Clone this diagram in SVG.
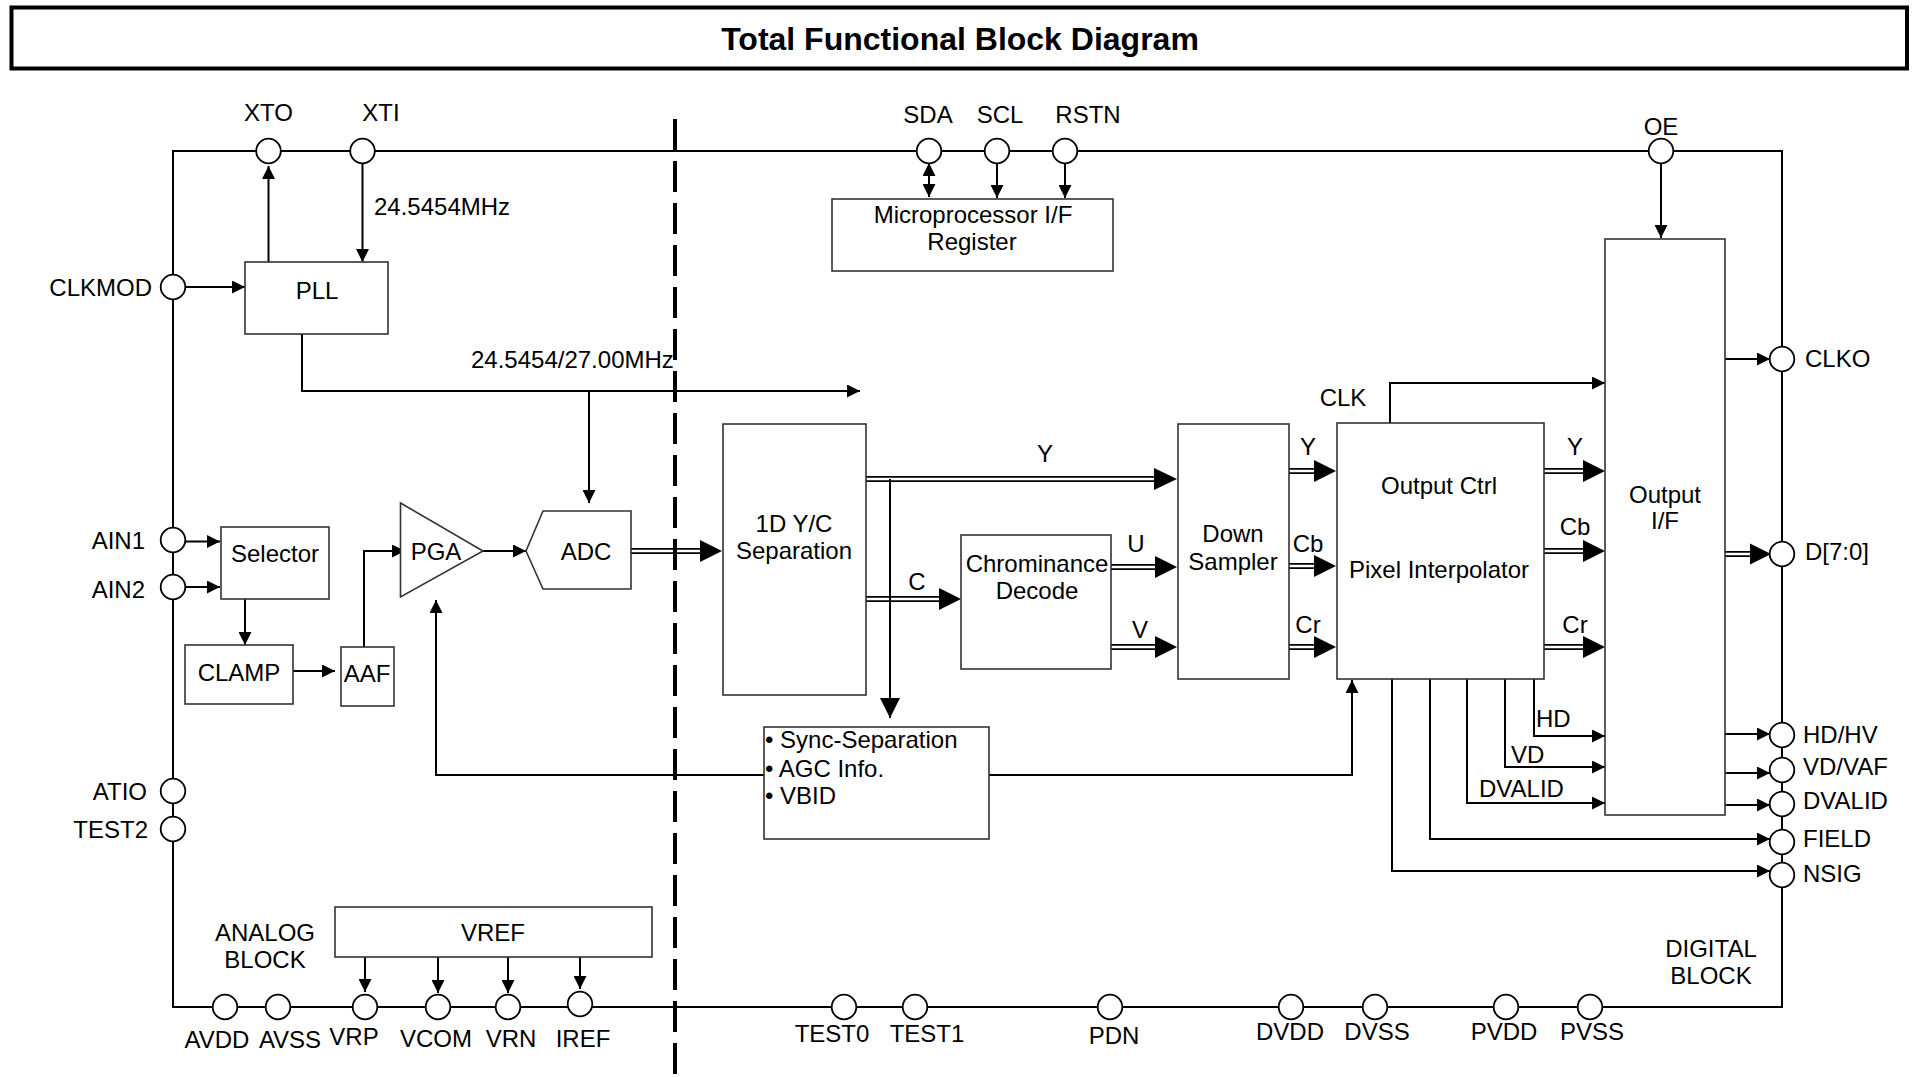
<svg xmlns="http://www.w3.org/2000/svg" width="1914" height="1077" viewBox="0 0 1914 1077">
<style>
text{font-family:"Liberation Sans",Arial,sans-serif;font-size:24px;fill:#000}
.title{font-weight:bold;font-size:32px}
.box{fill:#fff;stroke:#333;stroke-width:1.6}
.frame{fill:none;stroke:#000;stroke-width:2}
.conn{fill:none;stroke:#000;stroke-width:2}
.dbl{fill:none;stroke:#000;stroke-width:1.8}
.head{fill:#000;stroke:none}
.pin{fill:#fff;stroke:#000;stroke-width:1.8}
.dash{fill:none;stroke:#000;stroke-width:4;stroke-dasharray:31 11}
.m{text-anchor:middle}
.e{text-anchor:end}
</style>
<defs>
<marker id="arr" markerUnits="userSpaceOnUse" markerWidth="14" markerHeight="13" refX="13" refY="6.5" orient="auto-start-reverse" viewBox="0 0 14 13">
<path d="M0,0 L13,6.5 L0,13 Z" fill="#000"/>
</marker>
<marker id="bigarr" markerUnits="userSpaceOnUse" markerWidth="21" markerHeight="20" refX="20" refY="10" orient="auto" viewBox="0 0 21 20">
<path d="M0,0 L20,10 L0,20 Z" fill="#000"/>
</marker>
</defs>
<rect width="1914" height="1077" fill="#fff"/>

<g id="title">
<rect x="11.5" y="7.5" width="1895.5" height="61" fill="none" stroke="#000" stroke-width="4"/>
<text class="title m" x="960" y="50">Total Functional Block Diagram</text>
</g>

<g id="frame">
<rect class="frame" x="173" y="151" width="1609" height="856"/>
<path class="dash" d="M675 119 V1077"/>
</g>

<g id="connectors">
<path class="conn" d="M268.5 262 V166" marker-end="url(#arr)"/>
<path class="conn" d="M362.5 164 V262" marker-end="url(#arr)"/>
<path class="conn" d="M185.5 287 H245" marker-end="url(#arr)"/>
<path class="conn" d="M302 334 V391 H860" marker-end="url(#arr)"/>
<path class="conn" d="M589 391 V503" marker-end="url(#arr)"/>
<path class="conn" d="M186 541.5 H220" marker-end="url(#arr)"/>
<path class="conn" d="M186 587 H220" marker-end="url(#arr)"/>
<path class="conn" d="M245 599 V645" marker-end="url(#arr)"/>
<path class="conn" d="M293 671 H335" marker-end="url(#arr)"/>
<path class="conn" d="M364 647 V551 H405" marker-end="url(#arr)"/>
<path class="conn" d="M483 551 H526" marker-end="url(#arr)"/>
<path class="conn" d="M764 775 H436 V600" marker-end="url(#arr)"/>
<path class="conn" d="M989 775 H1352 V680" marker-end="url(#arr)"/>
<path class="conn" d="M890 479 V718" marker-end="url(#bigarr)"/>
<path class="conn" d="M929 163 V197" marker-start="url(#arr)" marker-end="url(#arr)"/>
<path class="conn" d="M997 164 V198" marker-end="url(#arr)"/>
<path class="conn" d="M1065 164 V198" marker-end="url(#arr)"/>
<path class="conn" d="M1661 164 V238" marker-end="url(#arr)"/>
<path class="conn" d="M1390 423 V383 H1605" marker-end="url(#arr)"/>
<path class="conn" d="M1725 359 H1770" marker-end="url(#arr)"/>
<path class="conn" d="M1534 677 V736 H1605" marker-end="url(#arr)"/>
<path class="conn" d="M1505 679 V767 H1605" marker-end="url(#arr)"/>
<path class="conn" d="M1467 677 V803 H1605" marker-end="url(#arr)"/>
<path class="conn" d="M1430 679 V839 H1770" marker-end="url(#arr)"/>
<path class="conn" d="M1392 679 V871 H1770" marker-end="url(#arr)"/>
<path class="conn" d="M1725 734 H1770" marker-end="url(#arr)"/>
<path class="conn" d="M1725 773 H1770" marker-end="url(#arr)"/>
<path class="conn" d="M1725 805 H1770" marker-end="url(#arr)"/>
<path class="conn" d="M365 957 V992" marker-end="url(#arr)"/>
<path class="conn" d="M438 957 V993" marker-end="url(#arr)"/>
<path class="conn" d="M508 957 V993" marker-end="url(#arr)"/>
<path class="conn" d="M580 957 V989" marker-end="url(#arr)"/>
<!-- double (bus) arrows -->
<path class="dbl" d="M625 548.8 H701 M625 553.2 H701"/><path class="head" d="M700 540 L722 551 L700 562 Z"/>
<path class="dbl" d="M866 476.8 H1156 M866 481.2 H1156"/><path class="head" d="M1154 468 L1177 479 L1154 490 Z"/>
<path class="dbl" d="M866 596.8 H940 M866 601.2 H940"/><path class="head" d="M939 588 L961 599 L939 610 Z"/>
<path class="dbl" d="M1111 564.8 H1156 M1111 569.2 H1156"/><path class="head" d="M1155 556 L1177 567 L1155 578 Z"/>
<path class="dbl" d="M1111 644.8 H1156 M1111 649.2 H1156"/><path class="head" d="M1155 636 L1177 647 L1155 658 Z"/>
<path class="dbl" d="M1289 468.8 H1315 M1289 473.2 H1315"/><path class="head" d="M1314 460 L1336 471 L1314 482 Z"/>
<path class="dbl" d="M1289 563.8 H1315 M1289 568.2 H1315"/><path class="head" d="M1314 555 L1336 566 L1314 577 Z"/>
<path class="dbl" d="M1289 644.8 H1315 M1289 649.2 H1315"/><path class="head" d="M1314 636 L1336 647 L1314 658 Z"/>
<path class="dbl" d="M1544 468.8 H1584 M1544 473.2 H1584"/><path class="head" d="M1583 460 L1605 471 L1583 482 Z"/>
<path class="dbl" d="M1544 548.8 H1584 M1544 553.2 H1584"/><path class="head" d="M1583 540 L1605 551 L1583 562 Z"/>
<path class="dbl" d="M1544 644.8 H1584 M1544 649.2 H1584"/><path class="head" d="M1583 636 L1605 647 L1583 658 Z"/>
<path class="dbl" d="M1725 551.8 H1752 M1725 556.2 H1752"/><path class="head" d="M1750 543.5 L1771 554 L1750 564.5 Z"/>
</g>

<g id="connector-labels">
<text x="374" y="215">24.5454MHz</text>
<text x="471" y="368">24.5454/27.00MHz</text>
<text class="m" x="1045" y="462">Y</text>
<text class="m" x="917" y="590">C</text>
<text class="m" x="1136" y="552">U</text>
<text class="m" x="1140" y="638">V</text>
<text class="m" x="1308" y="455">Y</text>
<text class="m" x="1308" y="552">Cb</text>
<text class="m" x="1308" y="633">Cr</text>
<text class="m" x="1575" y="455">Y</text>
<text class="m" x="1575" y="535">Cb</text>
<text class="m" x="1575" y="633">Cr</text>
<text class="m" x="1343" y="406">CLK</text>
<text x="1536" y="727">HD</text>
<text x="1511" y="763">VD</text>
<text x="1479" y="797">DVALID</text>
</g>

<g id="pll"><rect class="box" x="245" y="262" width="143" height="72"/><text class="m" x="317" y="299">PLL</text></g>
<g id="mpu"><rect class="box" x="832" y="199" width="281" height="72"/><text class="m" x="973" y="223">Microprocessor I/F</text><text class="m" x="972" y="250">Register</text></g>
<g id="selector"><rect class="box" x="221" y="527" width="108" height="72"/><text class="m" x="275" y="562">Selector</text></g>
<g id="clamp"><rect class="box" x="185" y="645" width="108" height="59"/><text class="m" x="239" y="681">CLAMP</text></g>
<g id="aaf"><rect class="box" x="341" y="647" width="53" height="59"/><text class="m" x="367" y="682">AAF</text></g>
<g id="pga"><path class="box" d="M400.5 503 L483 551 L400.5 597 Z"/><text class="m" x="436" y="560">PGA</text></g>
<g id="adc"><path class="box" d="M526 551 L543 511 H631 V589 H543 Z"/><text class="m" x="586" y="560">ADC</text></g>
<g id="yc-sep"><rect class="box" x="723" y="424" width="143" height="271"/><text class="m" x="794" y="532">1D Y/C</text><text class="m" x="794" y="559">Separation</text></g>
<g id="chroma"><rect class="box" x="961" y="535" width="150" height="134"/><text class="m" x="1037" y="572">Chrominance</text><text class="m" x="1037" y="599">Decode</text></g>
<g id="down-sampler"><rect class="box" x="1178" y="424" width="111" height="255"/><text class="m" x="1233" y="542">Down</text><text class="m" x="1233" y="570">Sampler</text></g>
<g id="output-ctrl"><rect class="box" x="1337" y="423" width="207" height="256"/><text class="m" x="1439" y="494">Output Ctrl</text><text class="m" x="1439" y="578">Pixel Interpolator</text></g>
<g id="output-if"><rect class="box" x="1605" y="239" width="120" height="576"/><text class="m" x="1665" y="503">Output</text><text class="m" x="1665" y="529">I/F</text></g>
<g id="sync"><rect class="box" x="764" y="727" width="225" height="112"/><text x="765" y="748">• Sync-Separation</text><text x="765" y="777">• AGC Info.</text><text x="765" y="804">• VBID</text></g>
<g id="vref"><rect class="box" x="335" y="907" width="317" height="50"/><text class="m" x="493" y="941">VREF</text></g>

<g id="block-labels">
<text class="m" x="265" y="941">ANALOG</text><text class="m" x="265" y="968">BLOCK</text>
<text class="m" x="1711" y="957">DIGITAL</text><text class="m" x="1711" y="984">BLOCK</text>
</g>

<g id="pins">
<circle class="pin" cx="268.5" cy="151" r="12.3"/>
<circle class="pin" cx="362.5" cy="151" r="12.3"/>
<circle class="pin" cx="929" cy="151" r="12.3"/>
<circle class="pin" cx="997" cy="151" r="12.3"/>
<circle class="pin" cx="1065" cy="151" r="12.3"/>
<circle class="pin" cx="1661" cy="151" r="12.3"/>
<circle class="pin" cx="173" cy="287" r="12.3"/>
<circle class="pin" cx="173" cy="540" r="12.3"/>
<circle class="pin" cx="173" cy="587" r="12.3"/>
<circle class="pin" cx="173" cy="791" r="12.3"/>
<circle class="pin" cx="173" cy="829" r="12.3"/>
<circle class="pin" cx="1782" cy="359" r="12.3"/>
<circle class="pin" cx="1782" cy="554" r="12.3"/>
<circle class="pin" cx="1782" cy="735" r="12.3"/>
<circle class="pin" cx="1782" cy="770" r="12.3"/>
<circle class="pin" cx="1782" cy="804" r="12.3"/>
<circle class="pin" cx="1782" cy="842" r="12.3"/>
<circle class="pin" cx="1782" cy="875" r="12.3"/>
<circle class="pin" cx="225" cy="1007" r="12.3"/>
<circle class="pin" cx="278" cy="1007" r="12.3"/>
<circle class="pin" cx="365" cy="1007" r="12.3"/>
<circle class="pin" cx="438" cy="1007" r="12.3"/>
<circle class="pin" cx="508" cy="1007" r="12.3"/>
<circle class="pin" cx="580" cy="1004" r="12.3"/>
<circle class="pin" cx="844" cy="1007" r="12.3"/>
<circle class="pin" cx="915" cy="1007" r="12.3"/>
<circle class="pin" cx="1110" cy="1007" r="12.3"/>
<circle class="pin" cx="1291" cy="1007" r="12.3"/>
<circle class="pin" cx="1375" cy="1007" r="12.3"/>
<circle class="pin" cx="1506" cy="1007" r="12.3"/>
<circle class="pin" cx="1590" cy="1007" r="12.3"/>
</g>

<g id="pin-labels">
<text class="m" x="268.5" y="121">XTO</text>
<text class="m" x="381" y="121">XTI</text>
<text class="m" x="928" y="123">SDA</text>
<text class="m" x="1000" y="123">SCL</text>
<text class="m" x="1088" y="123">RSTN</text>
<text class="m" x="1661" y="135">OE</text>
<text class="e" x="152" y="296">CLKMOD</text>
<text class="e" x="145" y="549">AIN1</text>
<text class="e" x="145" y="598">AIN2</text>
<text class="e" x="147" y="800">ATIO</text>
<text class="e" x="148" y="838">TEST2</text>
<text x="1805" y="367">CLKO</text>
<text x="1805" y="560">D[7:0]</text>
<text x="1803" y="743">HD/HV</text>
<text x="1803" y="775">VD/VAF</text>
<text x="1803" y="809">DVALID</text>
<text x="1803" y="847">FIELD</text>
<text x="1803" y="882">NSIG</text>
<text class="m" x="217" y="1048">AVDD</text>
<text class="m" x="290" y="1048">AVSS</text>
<text class="m" x="354" y="1045">VRP</text>
<text class="m" x="436" y="1047">VCOM</text>
<text class="m" x="511" y="1047">VRN</text>
<text class="m" x="583" y="1047">IREF</text>
<text class="m" x="832" y="1042">TEST0</text>
<text class="m" x="927" y="1042">TEST1</text>
<text class="m" x="1114" y="1044">PDN</text>
<text class="m" x="1290" y="1040">DVDD</text>
<text class="m" x="1377" y="1040">DVSS</text>
<text class="m" x="1504" y="1040">PVDD</text>
<text class="m" x="1592" y="1040">PVSS</text>
</g>
</svg>
